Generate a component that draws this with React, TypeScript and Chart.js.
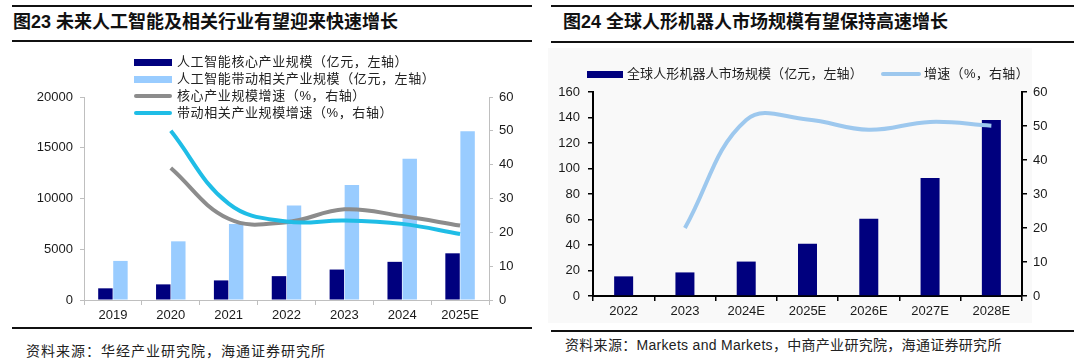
import React, { useEffect, useRef } from "react";
import { Chart, registerables } from "chart.js";

Chart.register(...registerables);

// ---------- Data: Figure 23 ----------
const leftTitle = "图23 未来人工智能及相关行业有望迎来快速增长";
const leftSource = "资料来源：华经产业研究院，海通证券研究所";
const leftYears = ["2019", "2020", "2021", "2022", "2023", "2024", "2025E"];
const coreScale = [1150, 1540, 1930, 2350, 3000, 3760, 4600];
const relatedScale = [3850, 5780, 7480, 9310, 11340, 13920, 16630];
const coreGrowth = [null, 39, 24, 23, 26.8, 24.8, 22];
const relatedGrowth = [null, 50, 28.5, 23.2, 23.5, 22.5, 19.5];
const leftSeriesNames = [
  "人工智能核心产业规模（亿元，左轴）",
  "人工智能带动相关产业规模（亿元，左轴）",
  "核心产业规模增速（%，右轴）",
  "带动相关产业规模增速（%，右轴）",
];
const leftAxisMax = 20000;
const leftAxisStep = 5000;
const leftRightAxisMax = 60;
const leftRightAxisStep = 10;

// ---------- Data: Figure 24 ----------
const rightTitle = "图24 全球人形机器人市场规模有望保持高速增长";
const rightSource = "资料来源：Markets and Markets，中商产业研究院，海通证券研究所";
const rightYears = ["2022", "2023", "2024E", "2025E", "2026E", "2027E", "2028E"];
const robotScale = [15.4, 18.5, 27, 41, 60.5, 92.5, 138];
const robotGrowth = [null, 20, 51.8, 51.9, 48.9, 51.2, 50.1];
const rightSeriesNames = ["全球人形机器人市场规模（亿元，左轴）", "增速（%，右轴）"];
const rightAxisMax = 160;
const rightAxisStep = 20;
const rightRightAxisMax = 60;
const rightRightAxisStep = 10;

// ---------- Styles ----------
const NAVY = "#00007E";
const LIGHT = "#99CCFF";
const GRAY = "#8C8C8C";
const CYAN = "#1FBDE6";
const RLINE = "#9DC8EE";
const TICK_FONT = "'Liberation Sans', Arial, 'Noto Sans CJK SC', sans-serif";
const CJK_FONT = "'Liberation Sans', Arial, 'Noto Sans CJK SC', sans-serif";

function LeftChart() {
  const ref = useRef<HTMLCanvasElement | null>(null);
  useEffect(() => {
    if (!ref.current) return;
    const axisColor = "#BFBFBF";
    const chart = new Chart(ref.current, {
      type: "bar",
      data: {
        labels: leftYears,
        datasets: [
          {
            type: "line",
            label: leftSeriesNames[2],
            data: coreGrowth,
            yAxisID: "y1",
            borderColor: GRAY,
            borderWidth: 4,
            pointRadius: 0,
            tension: 0.4,
            order: 1,
          } as any,
          {
            type: "line",
            label: leftSeriesNames[3],
            data: relatedGrowth,
            yAxisID: "y1",
            borderColor: CYAN,
            borderWidth: 4,
            pointRadius: 0,
            tension: 0.4,
            order: 0,
          } as any,
          {
            type: "bar",
            label: leftSeriesNames[0],
            data: coreScale,
            yAxisID: "y",
            backgroundColor: NAVY,
            categoryPercentage: 0.52,
            barPercentage: 0.96,
            order: 2,
          } as any,
          {
            type: "bar",
            label: leftSeriesNames[1],
            data: relatedScale,
            yAxisID: "y",
            backgroundColor: LIGHT,
            categoryPercentage: 0.52,
            barPercentage: 0.96,
            order: 2,
          } as any,
        ],
      },
      options: {
        animation: false,
        responsive: false,
        maintainAspectRatio: false,
        layout: { padding: { top: 52, left: 0, right: 0, bottom: 0 } },
        plugins: { legend: { display: false }, tooltip: { enabled: false } },
        scales: {
          x: {
            grid: { display: true, drawOnChartArea: false, drawTicks: true, tickLength: 5, color: axisColor, lineWidth: 1 },
            border: { display: true, color: axisColor, width: 1 },
            ticks: { font: { family: TICK_FONT, size: 13 }, color: "#1a1a1a", padding: 3, maxRotation: 0 },
            afterFit: (s: any) => { s.height = 30; },
          },
          y: {
            position: "left",
            min: 0,
            max: leftAxisMax,
            ticks: { stepSize: leftAxisStep, font: { family: TICK_FONT, size: 13 }, color: "#1a1a1a", padding: 7, callback: (v: any) => String(v) },
            grid: { display: true, drawOnChartArea: false, drawTicks: true, tickLength: 4, color: axisColor },
            border: { display: true, color: axisColor, width: 1 },
            afterFit: (s: any) => { s.width = 84; },
          },
          y1: {
            position: "right",
            min: 0,
            max: leftRightAxisMax,
            ticks: { stepSize: leftRightAxisStep, font: { family: TICK_FONT, size: 13 }, color: "#1a1a1a", padding: 6, callback: (v: any) => String(v) },
            grid: { display: true, drawOnChartArea: false, drawTicks: true, tickLength: 4, color: axisColor },
            border: { display: true, color: axisColor, width: 1 },
            afterFit: (s: any) => { s.width = 51; },
          },
        },
      } as any,
    });
    return () => chart.destroy();
  }, []);
  return <canvas ref={ref} width={540} height={285} style={{ position: "absolute", left: 0, top: 45 }} />;
}

function RightChart() {
  const ref = useRef<HTMLCanvasElement | null>(null);
  useEffect(() => {
    if (!ref.current) return;
    const axisColor = "#000000";
    const chart = new Chart(ref.current, {
      type: "bar",
      data: {
        labels: rightYears,
        datasets: [
          {
            type: "line",
            label: rightSeriesNames[1],
            data: robotGrowth,
            yAxisID: "y1",
            borderColor: RLINE,
            borderWidth: 4,
            pointRadius: 0,
            tension: 0.4,
            order: 0,
          } as any,
          {
            type: "bar",
            label: rightSeriesNames[0],
            data: robotScale,
            yAxisID: "y",
            backgroundColor: NAVY,
            categoryPercentage: 1,
            barPercentage: 0.31,
            order: 1,
          } as any,
        ],
      },
      options: {
        animation: false,
        responsive: false,
        maintainAspectRatio: false,
        layout: { padding: { top: 47, left: 0, right: 0, bottom: 0 } },
        plugins: { legend: { display: false }, tooltip: { enabled: false } },
        scales: {
          x: {
            grid: { display: true, drawOnChartArea: false, drawTicks: true, tickLength: 5, color: axisColor, lineWidth: 1.5 },
            border: { display: true, color: axisColor, width: 2 },
            ticks: { font: { family: TICK_FONT, size: 13 }, color: "#1a1a1a", padding: 3, maxRotation: 0 },
            afterFit: (s: any) => { s.height = 34; },
          },
          y: {
            position: "left",
            min: 0,
            max: rightAxisMax,
            ticks: { stepSize: rightAxisStep, font: { family: TICK_FONT, size: 13 }, color: "#1a1a1a", padding: 8, callback: (v: any) => String(v) },
            grid: { display: true, drawOnChartArea: false, drawTicks: true, tickLength: 5, color: axisColor, lineWidth: 1.5 },
            border: { display: true, color: axisColor, width: 2 },
            afterFit: (s: any) => { s.width = 53; },
          },
          y1: {
            position: "right",
            min: 0,
            max: rightRightAxisMax,
            ticks: { stepSize: rightRightAxisStep, font: { family: TICK_FONT, size: 13 }, color: "#1a1a1a", padding: 6, callback: (v: any) => String(v) },
            grid: { display: true, drawOnChartArea: false, drawTicks: true, tickLength: 5, color: axisColor, lineWidth: 1.5 },
            border: { display: true, color: axisColor, width: 2 },
            afterFit: (s: any) => { s.width = 58; },
          },
        },
      } as any,
    });
    return () => chart.destroy();
  }, []);
  return <canvas ref={ref} width={540} height={285} style={{ position: "absolute", left: 540, top: 45 }} />;
}

const hline = (left: number, top: number, width: number, h = 2): React.CSSProperties => ({
  position: "absolute",
  left,
  top,
  width,
  height: h,
  background: "#111",
});

const titleStyle = (left: number): React.CSSProperties => ({
  position: "absolute",
  left,
  top: 10,
  fontFamily: CJK_FONT,
  fontWeight: 700,
  fontSize: 18,
  lineHeight: "24px",
  color: "#111",
  whiteSpace: "nowrap",
});

const textStyle = (left: number, centerY: number, size: number, spacing: number): React.CSSProperties => ({
  position: "absolute",
  left,
  top: centerY - 10,
  height: 20,
  lineHeight: "20px",
  fontFamily: CJK_FONT,
  fontSize: size,
  letterSpacing: spacing,
  color: "#222",
  whiteSpace: "nowrap",
});

const swatch = (left: number, centerY: number, width: number, h: number, color: string, round = false): React.CSSProperties => ({
  position: "absolute",
  left,
  top: centerY - h / 2,
  width,
  height: h,
  background: color,
  borderRadius: round ? h / 2 : 0,
});

export default function App() {
  const leftRows = [62, 79, 96, 113];
  const leftSwatchColors = [NAVY, LIGHT, GRAY, CYAN];
  return (
    <div style={{ position: "relative", width: 1080, height: 359, background: "#fff", overflow: "hidden" }}>
      <style>{`html,body{margin:0;padding:0;background:#fff;}`}</style>

      {/* right panel light background */}
      <div style={{ position: "absolute", left: 548, top: 48, width: 484, height: 275, background: "#F9F9F9" }} />

      {/* Left panel frame */}
      <div style={hline(12, 5, 520)} />
      <div style={titleStyle(13)}>{leftTitle}</div>
      <div style={hline(12, 40, 520)} />
      <div style={hline(12, 327, 520)} />
      <div style={textStyle(26, 351, 14, 1)}>{leftSource}</div>

      {/* Right panel frame */}
      <div style={hline(551, 5, 523)} />
      <div style={titleStyle(563)}>{rightTitle}</div>
      <div style={hline(551, 41, 523)} />
      <div style={hline(551, 330, 523)} />
      <div style={textStyle(565, 345, 14, 0.3)}>{rightSource}</div>

      <LeftChart />
      <RightChart />

      {/* Left legend */}
      {leftRows.map((y, i) => (
        <React.Fragment key={i}>
          <div style={i < 2 ? swatch(134, y, 38, 7, leftSwatchColors[i]) : swatch(134, y, 38, 4, leftSwatchColors[i], true)} />
          <div style={textStyle(177, y, 13, 0.6)}>{leftSeriesNames[i]}</div>
        </React.Fragment>
      ))}

      {/* Right legend */}
      <div style={swatch(587, 74, 36, 7, NAVY)} />
      <div style={textStyle(627, 74, 13, 0.1)}>{rightSeriesNames[0]}</div>
      <div style={swatch(881, 74, 40, 4, RLINE, true)} />
      <div style={textStyle(924, 74, 13, 0.3)}>{rightSeriesNames[1]}</div>
    </div>
  );
}
